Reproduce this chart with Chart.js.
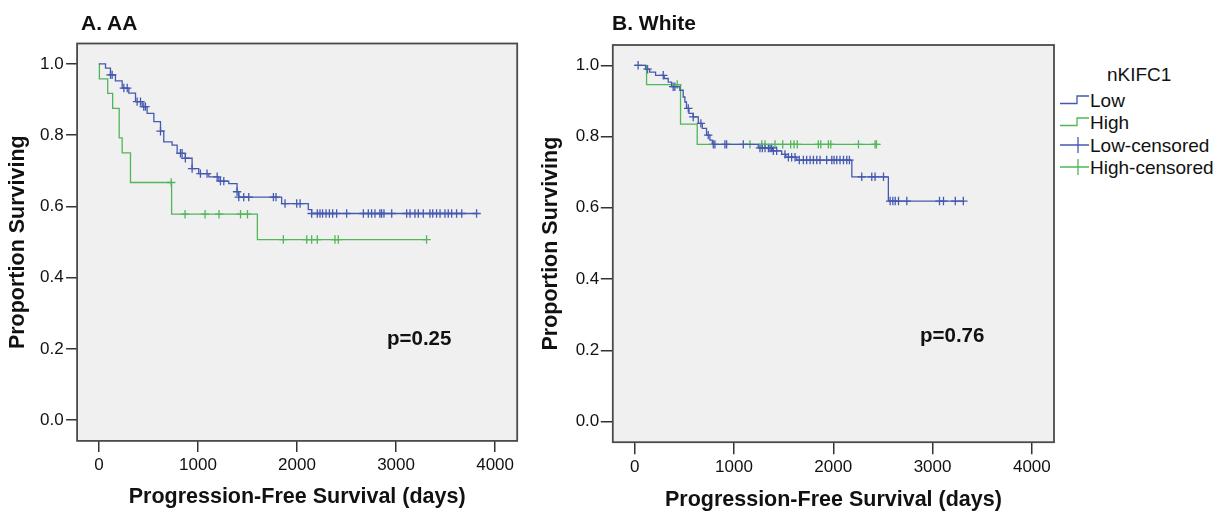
<!DOCTYPE html>
<html>
<head>
<meta charset="utf-8">
<script src="https://cdn.jsdelivr.net/npm/chart.js@4.4.0/dist/chart.umd.min.js"></script>
<style>
body { margin:0; background:#fff; width:1231px; height:511px; overflow:hidden; position:relative; font-family:"Liberation Sans", Arial, sans-serif; color:#111; }
.wrap { position:absolute; top:0; height:511px; width:530px; }
.txt { position:absolute; white-space:nowrap; line-height:1; }
.ttl { font-size:21px; font-weight:bold; }
.pval { font-size:20.5px; font-weight:bold; }
.leg { font-size:19px; }
.ico { position:absolute; }
</style>
</head>
<body>
<div class="wrap" style="left:0"><canvas id="chartA"></canvas></div>
<div class="wrap" style="left:530px"><canvas id="chartB"></canvas></div>

<div class="txt ttl" style="left:81px; top:12px">A. AA</div>
<div class="txt ttl" style="left:612px; top:12px">B. White</div>
<div class="txt pval" style="left:387px; top:328px">p=0.25</div>
<div class="txt pval" style="left:920px; top:325px">p=0.76</div>

<div class="txt leg" style="left:1107px; top:65px">nKIFC1</div>
<svg class="ico" style="left:1060px; top:92px" width="30" height="16"><polyline points="0,11.5 17,11.5 17,4 29,4" fill="none" stroke="#4459b0" stroke-width="1.3"/></svg>
<div class="txt leg" style="left:1090px; top:91px">Low</div>
<svg class="ico" style="left:1060px; top:114px" width="30" height="16"><polyline points="0,11.5 17,11.5 17,4 29,4" fill="none" stroke="#50b758" stroke-width="1.3"/></svg>
<div class="txt leg" style="left:1090px; top:113px">High</div>
<svg class="ico" style="left:1060px; top:136px" width="30" height="18"><path d="M0,9 H29 M18,1 V17" fill="none" stroke="#4459b0" stroke-width="1.3"/></svg>
<div class="txt leg" style="left:1090px; top:136px">Low-censored</div>
<svg class="ico" style="left:1060px; top:158px" width="30" height="18"><path d="M0,9 H29 M18,1 V17" fill="none" stroke="#50b758" stroke-width="1.3"/></svg>
<div class="txt leg" style="left:1090px; top:158px">High-censored</div>

<script>
// ticks
var xTicks = [0, 1000, 2000, 3000, 4000]
var yTicks = [0, 0.2, 0.4, 0.6, 0.8, 1.0]

// A. AA - nKIFC1 low
var aaLowTime = [0, 67, 117, 167, 235, 302, 370, 437, 487, 555, 622, 655, 739, 790, 873, 941, 1008, 1110, 1211, 1311, 1395, 1412, 1845, 2114, 2148, 3813]
var aaLowSurv = [1, 0.988, 0.969, 0.952, 0.932, 0.918, 0.894, 0.880, 0.861, 0.838, 0.811, 0.781, 0.772, 0.749, 0.735, 0.706, 0.692, 0.683, 0.671, 0.664, 0.641, 0.626, 0.608, 0.591, 0.580, 0.580]
var aaLowCens = [117, 134, 252, 286, 386, 420, 453, 470, 622, 823, 840, 873, 941, 1025, 1092, 1194, 1227, 1261, 1395, 1412, 1462, 1513, 1762, 1788, 1879, 1997, 2031, 2148, 2205, 2232, 2258, 2293, 2327, 2360, 2400, 2501, 2670, 2720, 2753, 2787, 2837, 2854, 2878, 2956, 3107, 3141, 3191, 3225, 3275, 3342, 3370, 3409, 3444, 3494, 3527, 3561, 3611, 3663, 3813]
// A. AA - nKIFC1 high
var aaHighTime = [0, 5, 89, 139, 205, 235, 319, 734, 1600, 3308]
var aaHighSurv = [1, 0.958, 0.917, 0.875, 0.792, 0.750, 0.667, 0.578, 0.507, 0.507]
var aaHighCens = [730, 870, 1072, 1213, 1430, 1500, 1862, 2098, 2148, 2205, 2383, 2417, 3308]

// B. White - nKIFC1 low
var whLowTime = [0, 110, 151, 211, 298, 338, 372, 455, 489, 506, 522, 547, 589, 641, 681, 724, 758, 782, 1245, 1385, 1481, 1523, 1633, 2187, 2555, 3310]
var whLowSurv = [1, 0.989, 0.981, 0.972, 0.963, 0.953, 0.940, 0.930, 0.911, 0.897, 0.879, 0.865, 0.855, 0.837, 0.823, 0.804, 0.790, 0.778, 0.768, 0.760, 0.750, 0.742, 0.734, 0.687, 0.619, 0.619]
var whLowCens = [35, 130, 288, 388, 405, 540, 590, 667, 741, 792, 808, 909, 926, 1094, 1262, 1286, 1313, 1347, 1363, 1380, 1397, 1430, 1514, 1548, 1581, 1615, 1658, 1699, 1732, 1767, 1800, 1834, 1867, 1934, 1985, 2008, 2035, 2068, 2103, 2136, 2163, 2287, 2388, 2421, 2506, 2573, 2600, 2624, 2657, 2741, 3070, 3110, 3229, 3310]
// B. White - nKIFC1 high
var whHighTime = [0, 120, 462, 630, 2435]
var whHighSurv = [1, 0.946, 0.835, 0.778, 0.778]
var whHighCens = [429, 1161, 1280, 1313, 1414, 1491, 1571, 1605, 1638, 1850, 1874, 1951, 1975, 2254, 2421, 2435]

var azul = '#4459b0'
var verde = '#50b758'
var fonte = '"Liberation Sans", Arial, sans-serif'

// nivel da curva no tempo t (para as marcas de censura)
function nivel(t, tempos, surv) {
  var s = surv[0]
  for (var i = 0; i < tempos.length; i++) {
    if (tempos[i] <= t) s = surv[i]
  }
  return s
}

function curva(tempos, surv, cor) {
  return {
    data: tempos.map((t, i) => ({x: t, y: surv[i]})),
    showLine: true, stepped: 'before', borderColor: cor, borderWidth: 1.3,
    pointRadius: 0, fill: false
  }
}

function censura(cens, tempos, surv, cor) {
  return {
    data: cens.map(t => ({x: t, y: nivel(t, tempos, surv)})),
    showLine: false, pointStyle: 'cross', pointRadius: 4.2,
    borderColor: cor, borderWidth: 1.3, backgroundColor: cor
  }
}

var caixa = {
  id: 'caixa',
  beforeDatasetsDraw(chart) {
    var a = chart.chartArea, ctx = chart.ctx
    ctx.save()
    ctx.fillStyle = '#f0f0f0'
    ctx.fillRect(a.left, a.top, a.right - a.left, a.bottom - a.top)
    ctx.restore()
  },
  afterDatasetsDraw(chart) {
    var a = chart.chartArea, ctx = chart.ctx
    ctx.save()
    ctx.strokeStyle = '#4a4a4a'
    ctx.lineWidth = 1.8
    ctx.strokeRect(a.left, a.top, a.right - a.left, a.bottom - a.top)
    ctx.restore()
  }
}

function grafico(id, datasets, o) {
  var ctx = document.getElementById(id).getContext('2d')
  return new Chart(ctx, {
    type: 'scatter',
    data: { datasets: datasets },
    options: {
      responsive: true,
      maintainAspectRatio: false,
      animation: false,
      layout: { padding: { left: 0, top: o.top, right: o.right, bottom: 0 } },
      plugins: { legend: { display: false }, tooltip: { enabled: false } },
      scales: {
        x: {
          type: 'linear', min: -220, max: 4223,
          afterBuildTicks: s => { s.ticks = xTicks.map(v => ({value: v})) },
          afterFit: s => { s.height = o.xh },
          grid: { drawOnChartArea: false, drawTicks: true, tickLength: o.xtl, color: '#333', lineWidth: 1.5 },
          border: { display: false },
          ticks: { color: '#111', font: { size: 17, family: fonte }, padding: o.xtp, maxRotation: 0, autoSkip: false, callback: v => String(v) },
          title: { display: true, text: 'Progression-Free Survival (days)', color: '#111',
            font: { size: 21.5, weight: 'bold', family: fonte, lineHeight: 1 }, padding: { top: 0, bottom: o.xtit } }
        },
        y: {
          type: 'linear', min: -0.058, max: 1.057,
          afterBuildTicks: s => { s.ticks = yTicks.map(v => ({value: v})) },
          afterFit: s => { s.width = o.yw },
          grid: { drawOnChartArea: false, drawTicks: true, tickLength: o.ytl, color: '#333', lineWidth: 1.5 },
          border: { display: false },
          ticks: { color: '#111', font: { size: 17, family: fonte }, padding: o.ytp, autoSkip: false, callback: v => v.toFixed(1) },
          title: { display: true, text: 'Proportion Surviving', color: '#111',
            font: { size: 21.5, weight: 'bold', family: fonte, lineHeight: 1 }, padding: { top: o.ytit, bottom: 0 } }
        }
      }
    },
    plugins: [caixa]
  })
}

grafico('chartA', [
  curva(aaLowTime, aaLowSurv, azul),
  curva(aaHighTime, aaHighSurv, verde),
  censura(aaLowCens, aaLowTime, aaLowSurv, azul),
  censura(aaHighCens, aaHighTime, aaHighSurv, verde)
], { top: 43.5, right: 12.8, xh: 70.1, xtl: 11, xtp: 2.9, xtit: 3.2, yw: 77.1, ytl: 11, ytp: 2.5, ytit: 7.2 })

grafico('chartB', [
  curva(whLowTime, whLowSurv, azul),
  curva(whHighTime, whHighSurv, verde),
  censura(whLowCens, whLowTime, whLowSurv, azul),
  censura(whHighCens, whHighTime, whHighSurv, verde)
], { top: 45, right: 6, xh: 68.8, xtl: 12, xtp: 2.8, xtit: 0.3, yw: 82.8, ytl: 12, ytp: 1.5, ytit: 10 })
</script>
</body>
</html>
